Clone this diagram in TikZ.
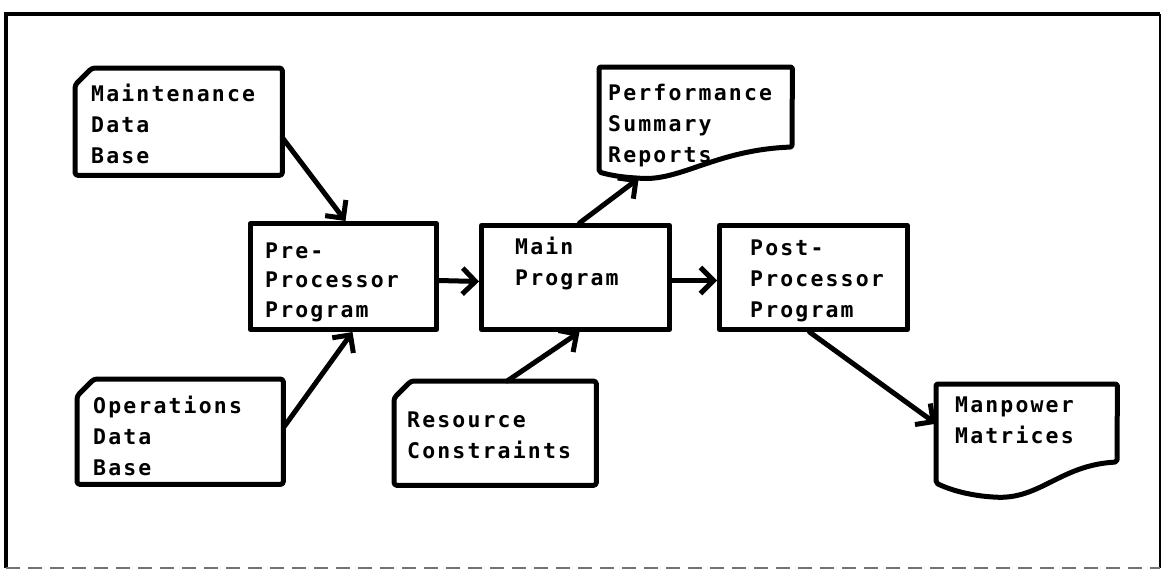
\documentclass[tikz,border=0pt]{standalone}
\usepackage{fontspec}
\usetikzlibrary{arrows.meta,calc}
\newfontfamily\lblfont[LetterSpace=10]{DejaVu Sans Mono}

\tikzset{
  ink/.style={line width=5pt, line join=round, line cap=round},
  shapebox/.style={rectangle, draw=none, inner sep=0pt, anchor=north west},
  plainbox/.style={shapebox, draw, ink},
  % anchored at the baseline of the last line
  lbl/.style={font=\lblfont\bfseries\fontsize{21.5}{31}\selectfont, align=left,
              inner sep=0pt, anchor=base west},
  flow/.style={ink, -{Straight Barb[length=13pt,width=26pt,line width=5pt]}}
}

\begin{document}
\begin{tikzpicture}[x=1pt,y=-1pt]
\useasboundingbox (0,0) rectangle (1167,574);

% outer frame
\draw[line width=3.4pt] (6,568) -- (6,14) -- (1160,14);
\draw[line width=1.2pt] (1160,14) -- (1160,568);
\draw[line width=2pt, black!55, dash pattern=on 14pt off 8pt] (6,568) -- (1160,568);

% node outlines
\node[shapebox, minimum width=207pt, minimum height=107pt] (maint) at (75,68) {};
\node[shapebox, minimum width=206pt, minimum height=105pt] (oper)  at (77,379) {};
\node[plainbox, minimum width=186pt, minimum height=106pt] (pre)   at (248,221) {};
\node[plainbox, minimum width=188pt, minimum height=104pt] (main)  at (479,223) {};
\node[shapebox, minimum width=202pt, minimum height=104pt] (res)   at (394,381) {};
\node[shapebox, minimum width=193pt, minimum height=111pt] (perf)  at (599,67) {};
\node[plainbox, minimum width=188pt, minimum height=104pt] (post)  at (717,223) {};
\node[shapebox, minimum width=181pt, minimum height=113pt] (manp)  at (936,384) {};

% punched-card outlines (cut top-left corner)
\foreach \n in {maint,oper,res}{
  \draw[ink, rounded corners=3pt]
    ($(\n.north west)+(0,17)$) -- ($(\n.north west)+(17,0)$) --
    (\n.north east) -- (\n.south east) -- (\n.south west) -- cycle;
}

% document outlines (wavy bottom edge)
\draw[ink, rounded corners=2pt]
  (perf.north west) -- (perf.north east) -- (792,147)
  .. controls (715,150) and (680,182) .. (637,178)
  .. controls (618,177) and (606,174) .. (599,172) -- cycle;
\draw[ink, rounded corners=2pt]
  (manp.north west) -- (manp.north east) -- (1117,462)
  .. controls (1060,465) and (1040,500) .. (993,497)
  .. controls (965,495) and (946,488) .. (936,483) -- cycle;

% labels
\node[lbl] (tmaint) at (91,163)  {Maintenance\\Data\\Base};
\node[lbl] (toper)  at (93,475)  {Operations\\Data\\Base};
\node[lbl, font=\lblfont\bfseries\fontsize{21.5}{29.5}\selectfont] (tpre) at (265,317) {Pre-\\Processor\\Program};
\node[lbl] (tmain)  at (515,285) {Main\\Program};
\node[lbl] (tres)   at (407,458) {Resource\\Constraints};
\node[lbl] (tperf)  at (608,162) {Performance\\Summary\\Reports};
\node[lbl] (tpost)  at (750,317) {Post-\\Processor\\Program};
\node[lbl] (tmanp)  at (955,443) {Manpower\\Matrices};

% data flow
\draw[flow] ([yshift=-16pt]maint.east) -- ([xshift=2pt]pre.north);
\draw[flow] ([yshift=4pt]oper.east) -- ([xshift=9pt]pre.south);
\draw[flow] ([yshift=-4pt]pre.east) -- ([yshift=-4pt]main.west);
\draw[flow] ([yshift=-3pt]main.east) -- ([yshift=-3pt]post.west);
\draw[flow] ([xshift=12pt]res.north) -- ([xshift=4pt]main.south);
\draw[flow] ([xshift=4pt]main.north) -- ([xshift=-57pt]perf.south);
\draw[flow] ([xshift=-4pt]post.south) -- ([yshift=17pt]manp.west);
\end{tikzpicture}
\end{document}
